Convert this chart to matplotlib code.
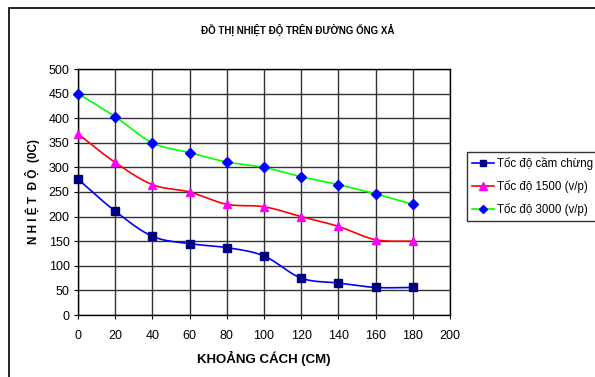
import numpy as np
import matplotlib.pyplot as plt
from matplotlib.patches import Rectangle

# Data
khoang_cach = [0, 20, 40, 60, 80, 100, 120, 140, 160, 180]
cam_chung = [276, 211, 160, 145, 137, 120, 75, 65, 56, 56]
toc_do_1500 = [368, 310, 265, 250, 225, 220, 200, 180, 153, 150]
toc_do_3000 = [450, 403, 350, 330, 311, 300, 281, 265, 246, 225]

ten_series = ['Tốc độ cầm chừng', 'Tốc độ 1500 (v/p)', 'Tốc độ 3000 (v/p)']

plt.rcParams['font.family'] = ['Liberation Sans Narrow', 'Liberation Sans', 'DejaVu Sans']


def smooth(x, y, n=20):
    # Catmull-Rom curve through the points, like Excel's smoothed line
    x = np.asarray(x, float)
    y = np.asarray(y, float)
    px = np.concatenate([[2 * x[0] - x[1]], x, [2 * x[-1] - x[-2]]])
    py = np.concatenate([[2 * y[0] - y[1]], y, [2 * y[-1] - y[-2]]])
    xs, ys = [], []
    t = np.linspace(0, 1, n)
    for i in range(1, len(px) - 2):
        for p, out in ((px, xs), (py, ys)):
            p0, p1, p2, p3 = p[i - 1], p[i], p[i + 1], p[i + 2]
            out.extend(0.5 * (2 * p1 + (-p0 + p2) * t
                              + (2 * p0 - 5 * p1 + 4 * p2 - p3) * t ** 2
                              + (-p0 + 3 * p1 - 3 * p2 + p3) * t ** 3))
    return xs, ys


fig = plt.figure(figsize=(5.95, 3.77), dpi=100)
ax = fig.add_axes([78 / 595, 62 / 377, 372 / 595, 246 / 377])

#Outer chart border
fig.patches.append(Rectangle((9 / 595, -0.05), 1.2, 1.05 - 8 / 377,
                             transform=fig.transFigure, fill=False,
                             edgecolor='black', linewidth=1.2))

styles = [
    (cam_chung, '#0000ff', 's', '#000080', 5.5),
    (toc_do_1500, '#ff0000', '^', '#ff00ff', 6),
    (toc_do_3000, '#00ff00', 'D', '#0000ff', 5),
]
for (vals, lc, mk, mc, ms), name in zip(styles, ten_series):
    sx, sy = smooth(khoang_cach, vals)
    ax.plot(sx, sy, color=lc, linewidth=1.2, zorder=3)
    ax.plot(khoang_cach, vals, linestyle='none', marker=mk, markersize=ms,
            color=mc, markeredgecolor=mc, zorder=4, clip_on=False)
    ax.plot([], [], color=lc, linewidth=1.2, marker=mk, markersize=ms - 0.5,
            markerfacecolor=mc, markeredgecolor=mc, label=name)

ax.set_xlim(0, 200)
ax.set_ylim(0, 500)
ax.set_xticks(range(0, 201, 20))
ax.set_yticks(range(0, 501, 50))
ax.grid(True, color='#333333', linewidth=1.0)
ax.set_axisbelow(True)
for s in ax.spines.values():
    s.set_color('black')
    s.set_linewidth(1.0)
ax.tick_params(labelsize=9, length=3, direction='out', pad=8)
ax.tick_params(axis='y', pad=3)

ax.set_xlabel('KHOẢNG CÁCH (CM)', fontsize=9.5, fontweight='bold', labelpad=6)
ax.set_ylabel('N H I Ệ T  Đ Ộ  (0C)', fontsize=8.5, fontweight='bold', labelpad=6)
fig.text(0.5, 1 - 30 / 377, 'ĐỒ THỊ NHIỆT ĐỘ TRÊN ĐƯỜNG ỐNG XẢ', ha='center', va='center',
         fontsize=7, fontweight='bold')

leg = ax.legend(loc='upper left', bbox_to_anchor=(467 / 595, 1 - 152 / 377),
                bbox_transform=fig.transFigure, fontsize=8.3, frameon=True,
                fancybox=False, edgecolor='black', handlelength=1.9,
                borderpad=0.4, labelspacing=0.9, handletextpad=0.3,
                borderaxespad=0)
leg.get_frame().set_linewidth(1.0)

fig.savefig('out.png', dpi=100)
